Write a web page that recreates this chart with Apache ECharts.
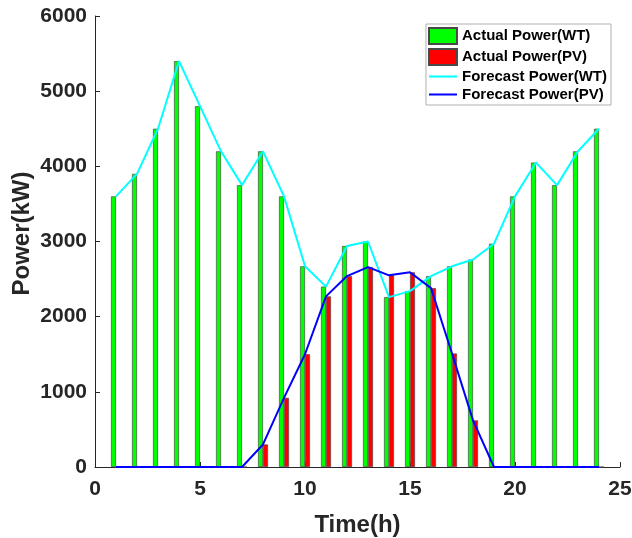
<!DOCTYPE html>
<html>
<head>
<meta charset="utf-8">
<script src="https://cdn.jsdelivr.net/npm/echarts@6/dist/echarts.min.js"></script>
<style>
  html, body { margin: 0; padding: 0; background: #fff; }
  #chart { width: 632px; height: 538px; }
</style>
</head>
<body>
<div id="chart"></div>
<script>
// Hourly time steps
const hours = [1,2,3,4,5,6,7,8,9,10,11,12,13,14,15,16,17,18,19,20,21,22,23,24];

// Actual wind turbine output (kW)
const actualWT = [3600,3900,4500,5400,4800,4200,3750,4200,3600,2670,2400,2940,
                  3000,2260,2340,2540,2670,2760,2970,3600,4050,3750,4200,4500];
// Actual photovoltaic output (kW)
const actualPV = [0,0,0,0,0,0,0,300,920,1500,2270,2540,
                  2660,2550,2590,2380,1510,620,0,0,0,0,0,0];
// Forecast wind turbine output (kW)
const forecastWT = [3600,3900,4500,5400,4800,4200,3750,4200,3600,2670,2400,2940,
                    3000,2260,2340,2540,2670,2760,2970,3600,4050,3750,4200,4500];
// Forecast photovoltaic output (kW)
const forecastPV = [0,0,0,0,0,0,0,300,920,1500,2270,2540,
                    2660,2550,2590,2380,1510,620,0,0,0,0,0,0];

const xTicks = [0, 5, 10, 15, 20, 25];
const yTicks = [0, 1000, 2000, 3000, 4000, 5000, 6000];

const pair = (vals) => hours.map((h, i) => [h, vals[i]]);
const txt = '#262626';
const font = 'Liberation Sans, Arial, sans-serif';
const hiddenSymbol = { opacity: 0 };

const chart = echarts.init(document.getElementById('chart'), null, { renderer: 'canvas' });
chart.setOption({
  animation: false,
  backgroundColor: '#ffffff',
  grid: { left: 95, right: 12, top: 16, bottom: 71, containLabel: false, outerBoundsMode: 'none' },
  legend: {
    right: 21, top: 24,
    orient: 'vertical',
    backgroundColor: '#ffffff',
    borderColor: '#b0b0b0',
    borderWidth: 1,
    padding: [3, 4, 3, 2],
    itemWidth: 28, itemHeight: 16, itemGap: 3,
    textStyle: { fontFamily: font, fontWeight: 'bold', fontSize: 15, color: '#000' },
    data: [
      { name: 'Actual Power(WT)', icon: 'rect' },
      { name: 'Actual Power(PV)', icon: 'rect' },
      { name: 'Forecast Power(WT)', itemStyle: hiddenSymbol },
      { name: 'Forecast Power(PV)', itemStyle: hiddenSymbol }
    ]
  },
  xAxis: {
    type: 'value',
    min: xTicks[0], max: xTicks[xTicks.length - 1], interval: 5,
    name: 'Time(h)', nameLocation: 'middle', nameGap: 46,
    nameTextStyle: { fontFamily: font, fontWeight: 'bold', fontSize: 24, color: txt },
    axisLine: { show: true, lineStyle: { color: '#262626', width: 1 } },
    axisTick: { show: true, inside: true, length: 5, lineStyle: { color: '#262626' } },
    axisLabel: { fontFamily: font, fontWeight: 'bold', fontSize: 21, color: txt, margin: 12 },
    splitLine: { show: false }
  },
  yAxis: {
    type: 'value',
    min: yTicks[0], max: yTicks[yTicks.length - 1], interval: 1000,
    name: 'Power(kW)', nameLocation: 'middle', nameGap: 61, nameRotate: 90,
    nameMoveOverlap: false,
    nameTextStyle: { fontFamily: font, fontWeight: 'bold', fontSize: 24, color: txt,
                     padding: [0, 0, 0, 16] },
    axisLine: { show: true, lineStyle: { color: '#262626', width: 1 } },
    axisTick: { show: true, inside: true, length: 5, lineStyle: { color: '#262626' } },
    axisLabel: { fontFamily: font, fontWeight: 'bold', fontSize: 21, color: txt, margin: 8,
                 formatter: (v) => String(v) },
    splitLine: { show: false }
  },
  series: [
    {
      name: 'Actual Power(WT)', type: 'bar', data: pair(actualWT),
      barWidth: 5, barGap: '0%',
      itemStyle: { color: '#00ff00', borderColor: '#4a4a4a', borderWidth: 0.7 },
      z: 2
    },
    {
      name: 'Actual Power(PV)', type: 'bar', data: pair(actualPV),
      barWidth: 5, barGap: '0%',
      itemStyle: { color: '#ff0000', borderColor: '#4a4a4a', borderWidth: 0.7 },
      z: 2
    },
    {
      name: 'Forecast Power(WT)', type: 'line', data: pair(forecastWT),
      symbol: 'none', lineStyle: { color: '#00ffff', width: 2 },
      itemStyle: { color: '#00ffff' }, z: 3
    },
    {
      name: 'Forecast Power(PV)', type: 'line', data: pair(forecastPV),
      symbol: 'none', lineStyle: { color: '#0000ff', width: 2 },
      itemStyle: { color: '#0000ff' }, z: 4
    }
  ]
});
</script>
</body>
</html>
